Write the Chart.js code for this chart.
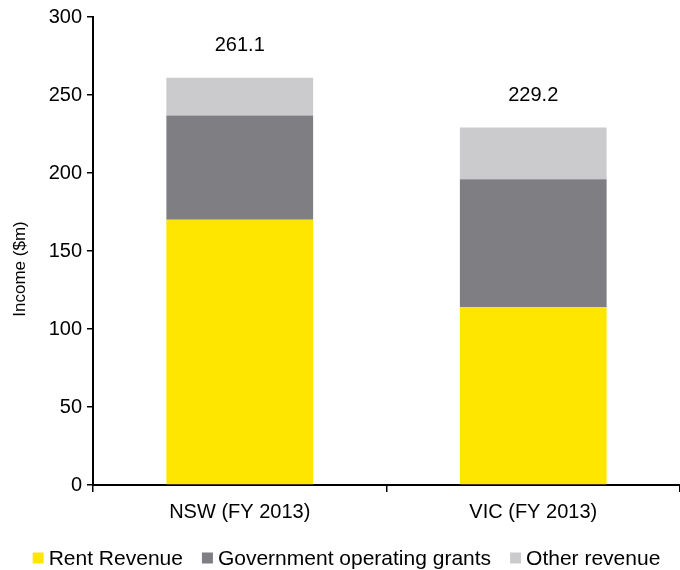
<!DOCTYPE html>
<html>
<head>
<meta charset="utf-8">
<script src="https://cdn.jsdelivr.net/npm/chart.js@4"></script>
<style>
  html, body { margin: 0; padding: 0; background: #fff; }
  #wrap { width: 680px; height: 570px; }
</style>
</head>
<body>
<div id="wrap"><canvas id="incomeChart" width="680" height="570"></canvas></div>
<script>
const categories = ['NSW (FY 2013)', 'VIC (FY 2013)'];
const rentRevenue = [170.0, 114.0];
const govGrants = [66.8, 82.0];
const otherRevenue = [24.3, 33.2];
const totals = [261.1, 229.2];
const yTicks = [0, 50, 100, 150, 200, 250, 300];

const FONT = 'Liberation Sans, Arial, sans-serif';

// totals above the bars, the rotated y title and a legend row at the bottom
const extras = {
    id: 'extras',
    afterDatasetsDraw(chart) {
        const ctx = chart.ctx;
        const xScale = chart.scales.x;
        const yScale = chart.scales.y;
        const area = chart.chartArea;
        ctx.save();
        ctx.fillStyle = '#000';
        ctx.font = '20px ' + FONT;
        ctx.textAlign = 'center';
        ctx.textBaseline = 'middle';
        totals.forEach((t, i) => {
            ctx.fillText(t.toFixed(1), xScale.getPixelForValue(i), yScale.getPixelForValue(t) - 32);
        });

        // y axis title, sits a bit below the middle of the axis
        ctx.save();
        ctx.translate(20, (area.top + area.bottom) / 2 + 18);
        ctx.rotate(-Math.PI / 2);
        ctx.font = '17px ' + FONT;
        ctx.fillText('Income ($m)', 0, 0);
        ctx.restore();

        // legend
        ctx.font = '21px ' + FONT;
        ctx.textAlign = 'left';
        const box = 11, gap = 5, spacing = 19;
        const items = chart.data.datasets.map(ds => ({ label: ds.label, color: ds.backgroundColor, w: ctx.measureText(ds.label).width }));
        let total = items.reduce((s, it) => s + box + gap + it.w, 0) + spacing * (items.length - 1);
        let x = 346.5 - total / 2;
        const y = 558;
        items.forEach(it => {
            ctx.fillStyle = it.color;
            ctx.fillRect(x, y - box / 2, box, box);
            ctx.fillStyle = '#000';
            ctx.fillText(it.label, x + box + gap, y + 1);
            x += box + gap + it.w + spacing;
        });
        ctx.restore();
    }
};

new Chart(document.getElementById('incomeChart').getContext('2d'), {
    type: 'bar',
    data: {
        labels: categories,
        datasets: [
            { label: 'Rent Revenue', data: rentRevenue, backgroundColor: '#ffe600' },
            { label: 'Government operating grants', data: govGrants, backgroundColor: '#7f7e83' },
            { label: 'Other revenue', data: otherRevenue, backgroundColor: '#cbcbcd' }
        ]
    },
    options: {
        responsive: false,
        animation: false,
        layout: { padding: { top: 17, right: 0, left: 10, bottom: 45 } },
        datasets: { bar: { barPercentage: 0.5, categoryPercentage: 1.0 } },
        plugins: {
            legend: { display: false },
            tooltip: { enabled: false }
        },
        scales: {
            x: {
                stacked: true,
                afterFit(scale) { scale.height = 40; },
                border: { color: '#000', width: 2 },
                grid: { drawOnChartArea: false, color: '#000', tickLength: 7, lineWidth: 1.5 },
                ticks: { color: '#000', font: { family: FONT, size: 20 }, padding: 8 }
            },
            y: {
                stacked: true,
                min: 0,
                max: 300,
                afterBuildTicks(scale) {
                    scale.ticks = yTicks.map(v => ({ value: v }));
                },
                afterFit(scale) { scale.width = 83; },
                border: { color: '#000', width: 2 },
                grid: { drawOnChartArea: false, color: '#000', tickLength: 6, lineWidth: 1.5 },
                ticks: { color: '#000', font: { family: FONT, size: 20 }, padding: 5 }
            }
        }
    },
    plugins: [extras]
});
</script>
</body>
</html>
